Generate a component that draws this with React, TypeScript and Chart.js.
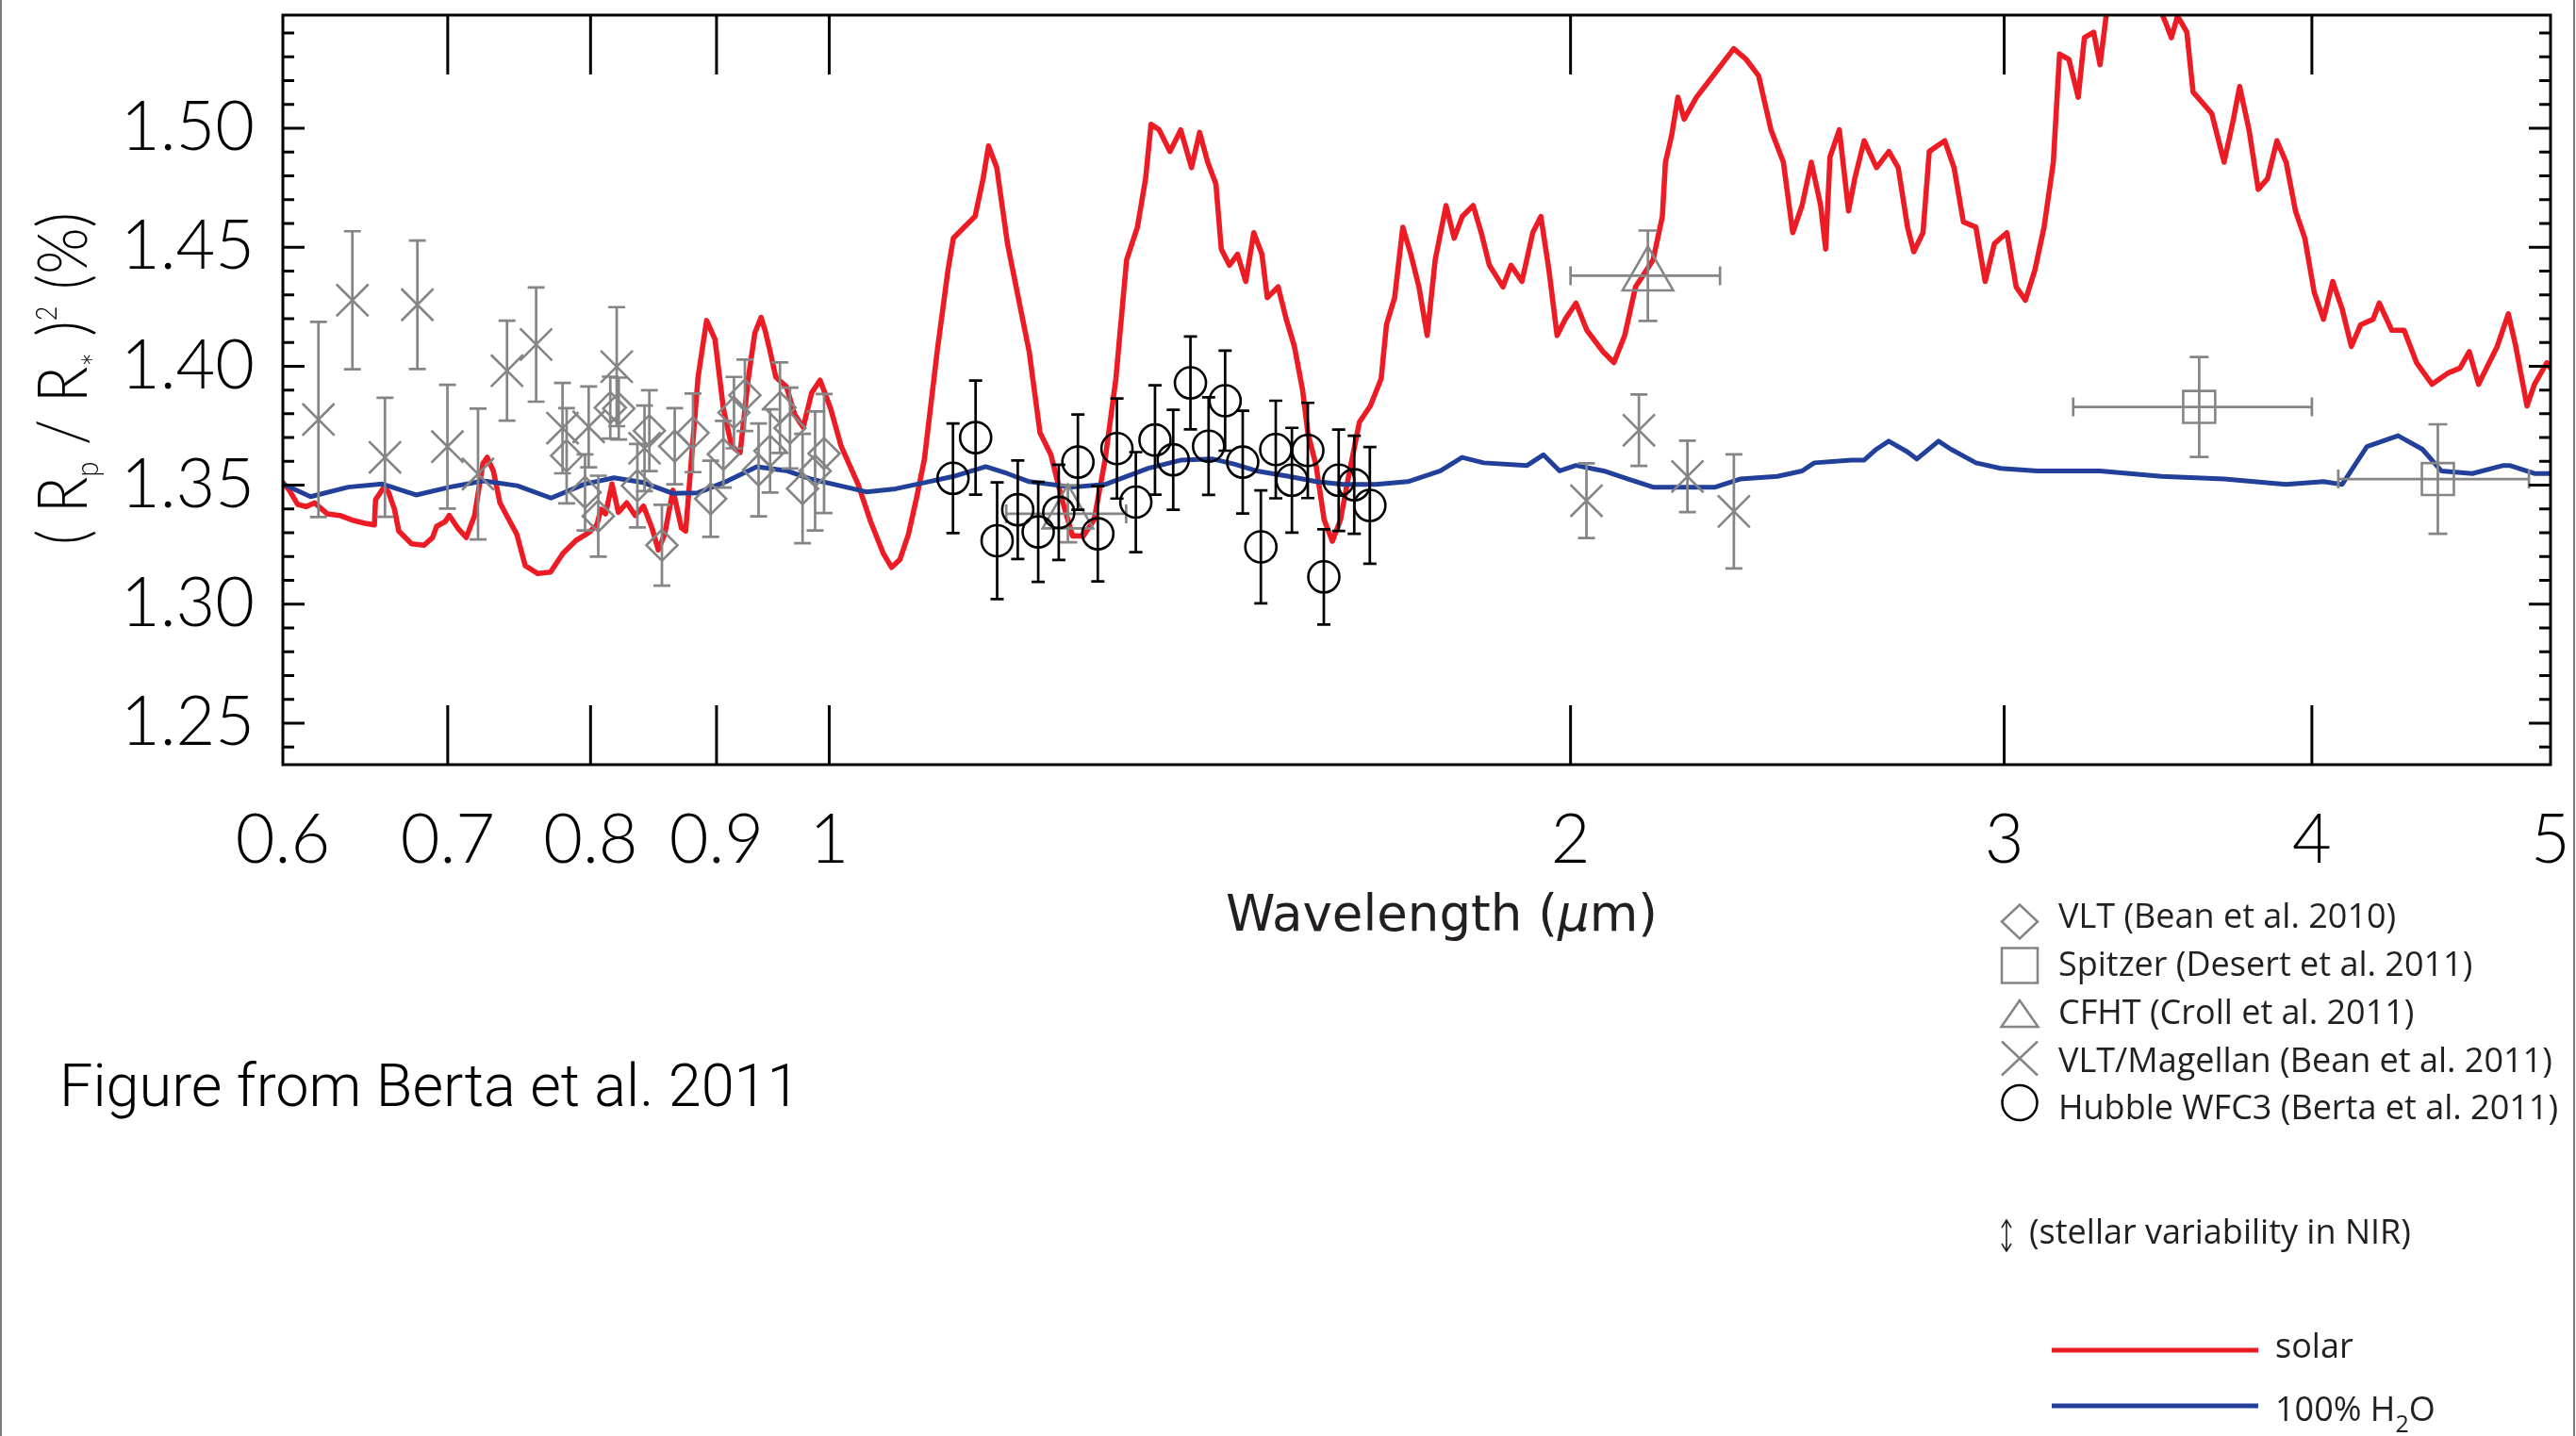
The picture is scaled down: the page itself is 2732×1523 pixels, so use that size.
import React, { useEffect, useRef } from 'react';
import { Chart, registerables } from 'chart.js';

Chart.register(...registerables);

const CANVAS_W = 2732;
const CANVAS_H = 1523;

// ---------- axis definitions ----------
const X_MIN = 0.6;
const X_MAX = 5;
const Y_MIN = 1.2326;
const Y_MAX = 1.5475;
const xTickValues = [0.6, 0.7, 0.8, 0.9, 1, 2, 3, 4, 5];
const xTickMarkValues = [0.7, 0.8, 0.9, 1, 2, 3, 4];
const yTickValues = [1.25, 1.3, 1.35, 1.4, 1.45, 1.5];
const yMinorTickValues = [1.24, 1.26, 1.27, 1.28, 1.29, 1.31, 1.32, 1.33, 1.34, 1.36, 1.37, 1.38, 1.39, 1.41, 1.42, 1.43, 1.44, 1.46, 1.47, 1.48, 1.49, 1.51, 1.52, 1.53, 1.54];

// ---------- solar model (red) ----------
const solarWavelength = [
  0.6000, 0.6036, 0.6084, 0.6132, 0.6181, 0.6254, 0.6328, 0.6403, 0.6479, 0.6536, 0.6543, 0.6595, 0.6623, 0.6660, 0.6687, 0.6767, 0.6847, 0.6901, 0.6928, 0.6983,
  0.7010, 0.7066, 0.7122, 0.7178, 0.7234, 0.7263, 0.7306, 0.7350, 0.7408, 0.7467, 0.7526, 0.7615, 0.7706, 0.7797, 0.7890, 0.7984, 0.8047, 0.8078, 0.8113, 0.8162,
  0.8211, 0.8275, 0.8341, 0.8406, 0.8473, 0.8523, 0.8574, 0.8641, 0.8710, 0.8744, 0.8846, 0.8917, 0.8987, 0.9058, 0.9128, 0.9201, 0.9273, 0.9328, 0.9383, 0.9418,
  0.9457, 0.9513, 0.9608, 0.9683, 0.9760, 0.9837, 0.9915, 1.0013, 1.0112, 1.0273, 1.0395, 1.0518, 1.0601, 1.0684, 1.0769, 1.0854, 1.0931,
  1.1062, 1.1174, 1.1231, 1.1345, 1.1461, 1.1548, 1.1606, 1.1696, 1.1814, 1.1934, 1.2056, 1.2179, 1.2303, 1.2427, 1.2554, 1.2682, 1.2811, 1.2942, 1.3074, 1.3206,
  1.3340, 1.3442, 1.3511, 1.3614, 1.3752, 1.3891, 1.4032, 1.4139, 1.4246, 1.4356, 1.4428, 1.4538, 1.4649, 1.4762, 1.4873, 1.4987, 1.5062, 1.5216, 1.5332, 1.5449,
  1.5567, 1.5645, 1.5765, 1.5885, 1.6007, 1.6129, 1.6252, 1.6417, 1.6585, 1.6754, 1.6838, 1.6967, 1.7097, 1.7226, 1.7357, 1.7491, 1.7623, 1.7802, 1.7938, 1.8075,
  1.8259, 1.8398, 1.8538, 1.8775, 1.8918, 1.9111, 1.9306, 1.9453, 1.9601, 1.9750, 1.9900, 2.0102, 2.0307, 2.0617, 2.0827, 2.1039, 2.1252, 2.1468,
  2.1605, 2.1793, 2.1856, 2.1983, 2.2112, 2.2241, 2.2499, 2.2763, 2.3029, 2.3296, 2.3569, 2.3845, 2.4122, 2.4404, 2.4618, 2.4834, 2.5050, 2.5269, 2.5388, 2.5491,
  2.5714, 2.5937, 2.6088, 2.6317, 2.6625, 2.6934, 2.7170, 2.7408, 2.7568, 2.7807, 2.7970, 2.8379, 2.8626, 2.8877, 2.9215, 2.9471, 2.9727, 3.0075, 3.0338, 3.0601,
  3.0870, 3.1140, 3.1410, 3.1594, 3.1871, 3.2150, 3.2335, 3.2618, 3.2812, 3.3000, 3.3345, 3.3938, 3.4450, 3.4872, 3.5076, 3.5278, 3.5587, 3.5794, 3.6108, 3.6425,
  3.6848, 3.7171, 3.7388, 3.7716, 3.8043, 3.8377, 3.8713, 3.9049, 3.9391, 3.9737, 4.0085, 4.0436, 4.0787, 4.1144, 4.1504, 4.1868, 4.2354, 4.2601, 4.3100, 4.3603,
  4.4110, 4.4756, 4.5408, 4.5940, 4.6343, 4.6745, 4.7568, 4.8066, 4.8401, 4.8911, 4.9253, 4.9829, 5.0000,
];
const solarDepth = [
  1.3511, 1.3479, 1.3419, 1.3410, 1.3426, 1.3380, 1.3373, 1.3353, 1.3340, 1.3333, 1.3439, 1.3492, 1.3470, 1.3399, 1.3307, 1.3254, 1.3248, 1.3280, 1.3327, 1.3347,
  1.3373, 1.3320, 1.3280, 1.3373, 1.3591, 1.3617, 1.3558, 1.3426, 1.3360, 1.3294, 1.3162, 1.3129, 1.3135, 1.3214, 1.3267, 1.3300, 1.3333, 1.3399, 1.3380, 1.3505,
  1.3386, 1.3426, 1.3373, 1.3412, 1.3320, 1.3228, 1.3294, 1.3479, 1.3320, 1.3307, 1.3954, 1.4192, 1.4113, 1.3822, 1.3664, 1.3637, 1.3954, 1.4139, 1.4205, 1.4150,
  1.4073, 1.3954, 1.3914, 1.3796, 1.3743, 1.3888, 1.3941, 1.3822, 1.3664, 1.3505, 1.3347, 1.3214, 1.3155, 1.3188, 1.3294, 1.3452, 1.3610,
  1.4061, 1.4402, 1.4538, 1.4584, 1.4629, 1.4788, 1.4925, 1.4834, 1.4515, 1.4288, 1.4061, 1.3720, 1.3628, 1.3447, 1.3287, 1.3287, 1.3355, 1.3605, 1.3947, 1.4447,
  1.4584, 1.4788, 1.5016, 1.4993, 1.4902, 1.4993, 1.4834, 1.4982, 1.4857, 1.4765, 1.4492, 1.4424, 1.4470, 1.4356, 1.4561, 1.4470, 1.4288, 1.4333, 1.4197, 1.4083,
  1.3901, 1.3720, 1.3583, 1.3355, 1.3265, 1.3355, 1.3537, 1.3765, 1.3833, 1.3947, 1.4175, 1.4288, 1.4584, 1.4470, 1.4333, 1.4129, 1.4447, 1.4675, 1.4538, 1.4629,
  1.4675, 1.4561, 1.4424, 1.4333, 1.4424, 1.4356, 1.4561, 1.4629, 1.4402, 1.4129, 1.4197, 1.4265, 1.4151, 1.4061, 1.4015, 1.4129, 1.4333, 1.4402,
  1.4447, 1.4629, 1.4857, 1.4970, 1.5130, 1.5038, 1.5130, 1.5198, 1.5266, 1.5334, 1.5289, 1.5220, 1.4993, 1.4857, 1.4561, 1.4675, 1.4857, 1.4675, 1.4492, 1.4879,
  1.4993, 1.4652, 1.4788, 1.4947, 1.4834, 1.4902, 1.4834, 1.4584, 1.4481, 1.4561, 1.4902, 1.4947, 1.4834, 1.4606, 1.4584, 1.4356, 1.4515, 1.4561, 1.4333, 1.4277,
  1.4402, 1.4584, 1.4857, 1.5311, 1.5289, 1.5130, 1.5380, 1.5403, 1.5266, 1.5471, 1.5560, 1.5650, 1.5580, 1.5448, 1.5380, 1.5471, 1.5403, 1.5152, 1.5107, 1.5061,
  1.4857, 1.5038, 1.5175, 1.4993, 1.4743, 1.4788, 1.4947, 1.4857, 1.4652, 1.4538, 1.4311, 1.4197, 1.4356, 1.4242, 1.4083, 1.4174, 1.4197, 1.4265, 1.4151, 1.4151,
  1.4015, 1.3924, 1.3970, 1.3992, 1.4061, 1.3924, 1.4083, 1.4220, 1.4083, 1.3833, 1.3924, 1.4015, 1.3992,
];

// ---------- 100% H2O model (blue) ----------
const waterWavelength = [
  0.6000, 0.6157, 0.6378, 0.6585, 0.6796, 0.7013, 0.7237, 0.7470, 0.7710, 0.7956, 0.8177, 0.8405, 0.8637, 0.8845, 0.9093, 0.9346, 0.9607, 0.9838, 1.0033, 1.0354,
  1.0641, 1.0931, 1.1231, 1.1576, 1.1813, 1.2056, 1.2554, 1.2942, 1.3477, 1.3889, 1.4318, 1.4612, 1.4911, 1.5371, 1.5765, 1.6170, 1.6668, 1.7179, 1.7708, 1.8071,
  1.8441, 1.9204, 1.9498, 1.9797, 2.0101, 2.0630, 2.1109, 2.1605, 2.2241, 2.2896, 2.3434, 2.4265, 2.4834, 2.5120, 2.6010, 2.6314, 2.6621, 2.6929, 2.7405, 2.7645,
  2.8212, 2.8545, 2.9217, 2.9899, 3.0943, 3.2808, 3.4763, 3.6853, 3.9036, 4.0440, 4.1145, 4.2113, 4.3356, 4.4356, 4.5144, 4.6473, 4.7841, 4.8120, 4.9253, 5.0000,
];
const waterDepth = [
  1.3505, 1.3452, 1.3492, 1.3505, 1.3459, 1.3492, 1.3518, 1.3498, 1.3446, 1.3505, 1.3531, 1.3511, 1.3466, 1.3468, 1.3518, 1.3578, 1.3561, 1.3525, 1.3505, 1.3472,
  1.3485, 1.3511, 1.3537, 1.3578, 1.3549, 1.3515, 1.3492, 1.3503, 1.3571, 1.3605, 1.3610, 1.3588, 1.3560, 1.3537, 1.3515, 1.3503, 1.3503, 1.3515, 1.3560, 1.3617,
  1.3594, 1.3583, 1.3628, 1.3560, 1.3583, 1.3560, 1.3526, 1.3492, 1.3492, 1.3492, 1.3526, 1.3537, 1.3560, 1.3594, 1.3605, 1.3605, 1.3651, 1.3685, 1.3640, 1.3610,
  1.3685, 1.3651, 1.3594, 1.3571, 1.3560, 1.3560, 1.3537, 1.3526, 1.3503, 1.3515, 1.3503, 1.3662, 1.3708, 1.3651, 1.3560, 1.3549, 1.3583, 1.3583, 1.3549, 1.3549,
];

// ---------- VLT (Bean et al. 2010) diamonds ----------
const vltWavelength = [0.7823, 0.7959, 0.8058, 0.8149, 0.8214, 0.8358, 0.8452, 0.8552, 0.8655, 0.8804, 0.8951, 0.9058, 0.9148, 0.9242, 0.9361, 0.9462, 0.9550, 0.9640, 0.9754, 0.9869, 0.9952];
const vltDepth = [1.3624, 1.3470, 1.3370, 1.3826, 1.3822, 1.3498, 1.3729, 1.3248, 1.3664, 1.3720, 1.3443, 1.3630, 1.3805, 1.3878, 1.3564, 1.3644, 1.3826, 1.3740, 1.3486, 1.3560, 1.3633];
const vltError = [0.020, 0.016, 0.017, 0.013, 0.013, 0.0175, 0.017, 0.017, 0.016, 0.0165, 0.016, 0.014, 0.015, 0.015, 0.0195, 0.0175, 0.019, 0.017, 0.023, 0.025, 0.025];

// ---------- Spitzer (Desert et al. 2011) squares ----------
const spitzerWavelength = [3.6, 4.5];
const spitzerDepth = [1.3829, 1.3526];
const spitzerError = [0.021, 0.023];
const spitzerBandLow = [3.2, 4.1];
const spitzerBandHigh = [4.0, 4.9];

// ---------- CFHT (Croll et al. 2011) triangles ----------
const cfhtWavelength = [1.25, 2.15];
const cfhtDepth = [1.338, 1.438];
const cfhtError = [0.012, 0.019];
const cfhtBandLow = [1.18, 2.0];
const cfhtBandHigh = [1.32, 2.3];

// ---------- VLT/Magellan (Bean et al. 2011) crosses ----------
const magellanWavelength = [0.6203, 0.6403, 0.6601, 0.6804, 0.6998, 0.7201, 0.7399, 0.7603, 0.7793, 0.7986, 0.8198, 0.8414, 2.030, 2.132, 2.231, 2.330];
const magellanDepth = [1.3776, 1.4277, 1.3617, 1.4258, 1.3662, 1.3547, 1.3981, 1.4091, 1.3740, 1.3745, 1.3998, 1.3655, 1.3435, 1.3731, 1.3537, 1.3390];
const magellanError = [0.041, 0.029, 0.025, 0.027, 0.026, 0.0275, 0.021, 0.024, 0.019, 0.017, 0.025, 0.018, 0.0157, 0.015, 0.015, 0.024];

// ---------- Hubble WFC3 (Berta et al. 2011) circles ----------
const hubbleWavelength = [1.1227, 1.1467, 1.1700, 1.1928, 1.2158, 1.2394, 1.2618, 1.2855, 1.3087, 1.3320, 1.3561, 1.3794, 1.4018, 1.4258, 1.4480, 1.4720, 1.4972, 1.5182, 1.5413, 1.5644, 1.5880, 1.6102, 1.6338, 1.6578];
const hubbleDepth = [1.3529, 1.3700, 1.3267, 1.3397, 1.3304, 1.3386, 1.3597, 1.3296, 1.3654, 1.3429, 1.3690, 1.3607, 1.3930, 1.3664, 1.3855, 1.3597, 1.3241, 1.3650, 1.3521, 1.3646, 1.3115, 1.3521, 1.3502, 1.3415];
const hubbleError = [0.023, 0.024, 0.0245, 0.0207, 0.021, 0.020, 0.020, 0.020, 0.021, 0.021, 0.023, 0.021, 0.0195, 0.0205, 0.021, 0.0216, 0.0237, 0.0205, 0.022, 0.020, 0.020, 0.0213, 0.0206, 0.0245];

// ---------- colours ----------
const RED = '#ED1C24';
const BLUE = '#22409A';
const GRAY = '#858585';
const BLACK = '#000000';
const TEXT = '#231F20';

const toPoints = (xs: number[], ys: number[]) => xs.map((x, i) => ({ x, y: ys[i] }));

const errorBarPlugin = {
  id: 'errorBars',
  afterDatasetDraw(chart: any, args: any) {
    const ds: any = chart.data.datasets[args.index];
    if (!ds.yErr && !ds.xLow) return;
    const { ctx, chartArea: a } = chart;
    const xs = chart.scales.x;
    const ys = chart.scales.y;
    ctx.save();
    ctx.beginPath();
    ctx.rect(a.left, a.top, a.right - a.left, a.bottom - a.top);
    ctx.clip();
    ctx.strokeStyle = ds.pointBorderColor;
    ctx.lineWidth = ds.errWidth;
    ctx.lineCap = 'butt';
    const cap = ds.capHalf;
    ds.data.forEach((p: any, i: number) => {
      const px = xs.getPixelForValue(p.x);
      const py = ys.getPixelForValue(p.y);
      ctx.beginPath();
      if (ds.yErr) {
        const t = ys.getPixelForValue(p.y + ds.yErr[i]);
        const b = ys.getPixelForValue(p.y - ds.yErr[i]);
        ctx.moveTo(px, t); ctx.lineTo(px, b);
        ctx.moveTo(px - cap, t); ctx.lineTo(px + cap, t);
        ctx.moveTo(px - cap, b); ctx.lineTo(px + cap, b);
      }
      if (ds.xLow) {
        const l = xs.getPixelForValue(ds.xLow[i]);
        const r = xs.getPixelForValue(ds.xHigh[i]);
        ctx.moveTo(l, py); ctx.lineTo(r, py);
        ctx.moveTo(l, py - cap); ctx.lineTo(l, py + cap);
        ctx.moveTo(r, py - cap); ctx.lineTo(r, py + cap);
      }
      ctx.stroke();
    });
    ctx.restore();
  },
};

function drawLegendMarker(ctx: CanvasRenderingContext2D, style: string, x: number, y: number, color: string) {
  ctx.save();
  ctx.strokeStyle = color;
  ctx.lineWidth = 2.5;
  ctx.beginPath();
  if (style === 'rectRot') {
    ctx.moveTo(x - 19, y); ctx.lineTo(x, y - 18); ctx.lineTo(x + 19, y); ctx.lineTo(x, y + 18); ctx.closePath();
  } else if (style === 'rect') {
    ctx.rect(x - 19, y - 18.5, 38, 37);
  } else if (style === 'triangle') {
    ctx.moveTo(x, y - 14); ctx.lineTo(x + 19.5, y + 14); ctx.lineTo(x - 19.5, y + 14); ctx.closePath();
  } else if (style === 'crossRot') {
    ctx.moveTo(x - 19, y - 18); ctx.lineTo(x + 19, y + 18);
    ctx.moveTo(x + 19, y - 18); ctx.lineTo(x - 19, y + 18);
  } else if (style === 'circle') {
    ctx.arc(x, y, 18.5, 0, Math.PI * 2);
  }
  ctx.stroke();
  ctx.restore();
}

const decorPlugin = {
  id: 'decor',
  afterDraw(chart: any) {
    const { ctx, chartArea: a } = chart;
    const xs = chart.scales.x;
    const ys = chart.scales.y;
    ctx.save();

    // page edge lines
    ctx.fillStyle = '#7a7a7a';
    ctx.fillRect(0, 0, 2, CANVAS_H);
    ctx.fillRect(2729, 0, 2, CANVAS_H);

    // frame
    ctx.strokeStyle = BLACK;
    ctx.lineWidth = 3;
    ctx.lineCap = 'butt';
    ctx.strokeRect(a.left, a.top, a.right - a.left, a.bottom - a.top);

    // inward tick marks
    ctx.beginPath();
    for (const v of xTickMarkValues) {
      const px = xs.getPixelForValue(v);
      ctx.moveTo(px, a.bottom); ctx.lineTo(px, a.bottom - 63);
      ctx.moveTo(px, a.top); ctx.lineTo(px, a.top + 63);
    }
    for (const v of yTickValues) {
      const py = ys.getPixelForValue(v);
      ctx.moveTo(a.left, py); ctx.lineTo(a.left + 23, py);
      ctx.moveTo(a.right, py); ctx.lineTo(a.right - 23, py);
    }
    for (const v of yMinorTickValues) {
      const py = ys.getPixelForValue(v);
      ctx.moveTo(a.left, py); ctx.lineTo(a.left + 12, py);
      ctx.moveTo(a.right, py); ctx.lineTo(a.right - 12, py);
    }
    ctx.stroke();

    // y-axis title ( R_p / R_* )^2 (%)
    const base = 73;
    const parts = [
      { t: '(', s: base, dy: 0 },
      { t: ' R', s: base, dy: 0 },
      { t: 'p', s: 34, dy: 12 },
      { t: ' / R', s: base, dy: 0 },
      { t: '*', s: 40, dy: 24 },
      { t: ' )', s: base, dy: 0 },
      { t: '2', s: 31, dy: -32 },
      { t: ' (%)', s: base, dy: 0 },
    ];
    let total = 0;
    const widths: number[] = [];
    for (const p of parts) {
      ctx.font = `300 ${p.s}px Lato`;
      const w = ctx.measureText(p.t).width;
      widths.push(w);
      total += w;
    }
    ctx.save();
    ctx.fillStyle = BLACK;
    ctx.textBaseline = 'alphabetic';
    ctx.textAlign = 'left';
    ctx.translate(92, 578);
    ctx.rotate(-Math.PI / 2);
    ctx.scale(353 / total, 1);
    let cx = 0;
    parts.forEach((p, i) => {
      ctx.font = `300 ${p.s}px Lato`;
      ctx.fillText(p.t, cx, p.dy);
      cx += widths[i];
    });
    ctx.restore();

    // x-axis title
    ctx.fillStyle = TEXT;
    ctx.textBaseline = 'alphabetic';
    ctx.textAlign = 'left';
    let tx = 1300;
    ctx.font = '53px "DejaVu Sans"';
    ctx.fillText('Wavelength (', tx, 987);
    tx += ctx.measureText('Wavelength (').width;
    ctx.font = 'italic 53px "DejaVu Sans"';
    ctx.fillText('\u03bc', tx, 987);
    tx += ctx.measureText('\u03bc').width;
    ctx.font = '53px "DejaVu Sans"';
    ctx.fillText('m)', tx, 987);

    // caption
    ctx.fillStyle = BLACK;
    ctx.font = '300 63px Roboto';
    ctx.fillText('Figure from Berta et al. 2011', 63, 1173);

    // legend for data sets
    const legendRows = [
      { idx: 4, style: 'rectRot', y: 977.5, base: 984, color: GRAY },
      { idx: 3, style: 'rect', y: 1024, base: 1035, color: GRAY },
      { idx: 2, style: 'triangle', y: 1075, base: 1086, color: GRAY },
      { idx: 1, style: 'crossRot', y: 1122.5, base: 1136.5, color: GRAY },
      { idx: 0, style: 'circle', y: 1169.5, base: 1187, color: BLACK },
    ];
    ctx.font = '36px "Open Sans"';
    for (const row of legendRows) {
      drawLegendMarker(ctx, row.style, 2142, row.y, row.color);
      ctx.fillStyle = TEXT;
      ctx.fillText(chart.data.datasets[row.idx].label, 2183, row.base);
    }

    // stellar variability arrow
    ctx.strokeStyle = TEXT;
    ctx.lineWidth = 1.6;
    ctx.beginPath();
    ctx.moveTo(2128, 1294); ctx.lineTo(2128, 1327);
    ctx.moveTo(2123, 1302); ctx.lineTo(2128, 1294); ctx.lineTo(2133, 1302);
    ctx.moveTo(2123, 1319); ctx.lineTo(2128, 1327); ctx.lineTo(2133, 1319);
    ctx.stroke();
    ctx.fillStyle = TEXT;
    ctx.fillText('(stellar variability in NIR)', 2152, 1319);

    // model legend
    const solarDs = chart.data.datasets[6];
    const waterDs = chart.data.datasets[5];
    ctx.lineWidth = 5;
    ctx.strokeStyle = solarDs.borderColor;
    ctx.beginPath(); ctx.moveTo(2176, 1432); ctx.lineTo(2395, 1432); ctx.stroke();
    ctx.strokeStyle = waterDs.borderColor;
    ctx.beginPath(); ctx.moveTo(2176, 1491); ctx.lineTo(2395, 1491); ctx.stroke();
    ctx.fillStyle = TEXT;
    ctx.font = '36px "Open Sans"';
    ctx.fillText(solarDs.label, 2413, 1440);
    let hx = 2413;
    ctx.fillText('100% H', hx, 1507);
    hx += ctx.measureText('100% H').width;
    ctx.font = '25px "Open Sans"';
    ctx.fillText('2', hx, 1519);
    hx += ctx.measureText('2').width;
    ctx.font = '36px "Open Sans"';
    ctx.fillText('O', hx, 1507);

    ctx.restore();
  },
};

const zeroPadding = (s: any) => {
  s.paddingTop = 0;
  s.paddingBottom = 0;
  s.paddingLeft = 0;
  s.paddingRight = 0;
};

export default function App() {
  const canvasRef = useRef<HTMLCanvasElement | null>(null);

  useEffect(() => {
    const canvas = canvasRef.current;
    if (!canvas) return;
    const tickFont = { family: 'Lato', size: 72, weight: '300' as any };
    const chart = new Chart(canvas, {
      type: 'scatter',
      data: {
        datasets: [
          {
            label: 'Hubble WFC3 (Berta et al. 2011)',
            data: toPoints(hubbleWavelength, hubbleDepth),
            pointStyle: 'circle', pointRadius: 16.5, pointBorderWidth: 2.6,
            pointBorderColor: BLACK, pointBackgroundColor: 'rgba(0,0,0,0)', borderColor: BLACK,
            yErr: hubbleError, capHalf: 7, errWidth: 2.7, order: 1,
          } as any,
          {
            label: 'VLT/Magellan (Bean et al. 2011)',
            data: toPoints(magellanWavelength, magellanDepth),
            pointStyle: 'crossRot', pointRadius: 24, pointBorderWidth: 2.6,
            pointBorderColor: GRAY, pointBackgroundColor: 'rgba(0,0,0,0)', borderColor: GRAY,
            yErr: magellanError, capHalf: 9, errWidth: 2.7, order: 2,
          } as any,
          {
            label: 'CFHT (Croll et al. 2011)',
            data: toPoints(cfhtWavelength, cfhtDepth),
            pointStyle: 'triangle', pointRadius: 31, pointBorderWidth: 2.6,
            pointBorderColor: GRAY, pointBackgroundColor: 'rgba(0,0,0,0)', borderColor: GRAY,
            yErr: cfhtError, xLow: cfhtBandLow, xHigh: cfhtBandHigh, capHalf: 10, errWidth: 2.7, order: 3,
          } as any,
          {
            label: 'Spitzer (Desert et al. 2011)',
            data: toPoints(spitzerWavelength, spitzerDepth),
            pointStyle: 'rect', pointRadius: 24, pointBorderWidth: 2.6,
            pointBorderColor: GRAY, pointBackgroundColor: 'rgba(0,0,0,0)', borderColor: GRAY,
            yErr: spitzerError, xLow: spitzerBandLow, xHigh: spitzerBandHigh, capHalf: 10, errWidth: 2.7, order: 4,
          } as any,
          {
            label: 'VLT (Bean et al. 2010)',
            data: toPoints(vltWavelength, vltDepth),
            pointStyle: 'rectRot', pointRadius: 16.5, pointBorderWidth: 2.6,
            pointBorderColor: GRAY, pointBackgroundColor: 'rgba(0,0,0,0)', borderColor: GRAY,
            yErr: vltError, capHalf: 9, errWidth: 2.7, order: 5,
          } as any,
          {
            label: '100% H2O',
            data: toPoints(waterWavelength, waterDepth),
            showLine: true, pointRadius: 0, borderColor: BLUE, borderWidth: 5,
            borderJoinStyle: 'round', borderCapStyle: 'round', tension: 0, clip: 0, order: 9,
          } as any,
          {
            label: 'solar',
            data: toPoints(solarWavelength, solarDepth),
            showLine: true, pointRadius: 0, borderColor: RED, borderWidth: 5.6,
            borderJoinStyle: 'round', borderCapStyle: 'round', tension: 0, clip: 0, order: 10,
          } as any,
        ],
      },
      options: {
        responsive: false,
        maintainAspectRatio: false,
        animation: false,
        devicePixelRatio: 1,
        events: [],
        layout: { autoPadding: false, padding: { left: 0, right: CANVAS_W - 2705, top: 16, bottom: 0 } },
        plugins: {
          legend: { display: false },
          tooltip: { enabled: false },
          title: { display: false },
        },
        scales: {
          x: {
            type: 'logarithmic',
            position: 'bottom',
            min: X_MIN,
            max: X_MAX,
            grid: { display: false, drawTicks: false },
            border: { display: false },
            ticks: {
              autoSkip: false,
              maxRotation: 0,
              minRotation: 0,
              padding: 38,
              color: BLACK,
              font: tickFont,
              callback: (v: any) => String(v),
            },
            afterBuildTicks: (s: any) => { s.ticks = xTickValues.map((v) => ({ value: v })); },
            afterFit: (s: any) => { s.height = CANVAS_H - 811; zeroPadding(s); },
          },
          y: {
            type: 'linear',
            position: 'left',
            min: Y_MIN,
            max: Y_MAX,
            grid: { display: false, drawTicks: false },
            border: { display: false },
            ticks: {
              padding: 30,
              color: BLACK,
              font: tickFont,
              callback: (v: any) => Number(v).toFixed(2),
            },
            afterBuildTicks: (s: any) => { s.ticks = yTickValues.map((v) => ({ value: v })); },
            afterFit: (s: any) => { s.width = 300; zeroPadding(s); },
          },
        },
      } as any,
      plugins: [errorBarPlugin as any, decorPlugin as any],
    });
    return () => chart.destroy();
  }, []);

  return (
    <div style={{ position: 'absolute', left: 0, top: 0, width: CANVAS_W, height: CANVAS_H, background: '#ffffff' }}>
      <canvas ref={canvasRef} width={CANVAS_W} height={CANVAS_H} style={{ display: 'block', width: CANVAS_W, height: CANVAS_H }} />
    </div>
  );
}
